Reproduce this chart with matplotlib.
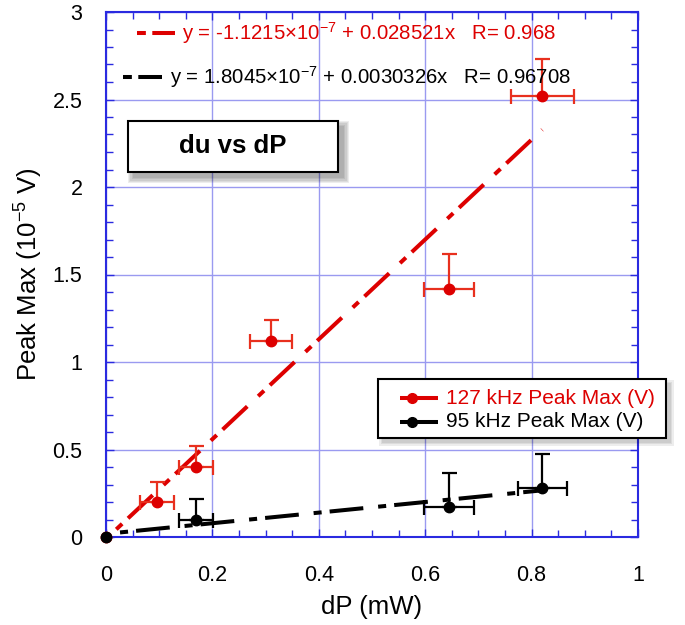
import matplotlib
matplotlib.use('Agg')
import matplotlib.pyplot as plt
import numpy as np
from matplotlib.patches import Rectangle
from matplotlib.lines import Line2D
from matplotlib.ticker import MultipleLocator

plt.rcParams['font.family'] = ['Liberation Sans', 'DejaVu Sans']
plt.rcParams['mathtext.fontset'] = 'custom'
plt.rcParams['mathtext.rm'] = 'Liberation Sans'
plt.rcParams['mathtext.default'] = 'regular'

# ---- data (x in mW, y in 1e-5 V) ----
red_x = [0.0, 0.095, 0.170, 0.310, 0.645, 0.820]
red_y = [0.0, 0.20, 0.40, 1.12, 1.415, 2.52]
red_xerr = [0.0, 0.032, 0.032, 0.040, 0.047, 0.059]
red_yerr_up = [0.0, 0.114, 0.118, 0.12, 0.20, 0.21]

blk_x = [0.0, 0.170, 0.645, 0.820]
blk_y = [0.0, 0.097, 0.173, 0.282]
blk_xerr = [0.0, 0.032, 0.047, 0.046]
blk_yerr_up = [0.0, 0.118, 0.19, 0.19]

red_fit = (-1.1215e-7, 0.028521)   # intercept (V), slope (V/W)
red_R = 0.968
blk_fit = (1.8045e-7, 0.0030326)
blk_R = 0.96708

red_label = '127 kHz Peak Max (V)'
blk_label = '95 kHz Peak Max (V)'
title_text = 'du vs dP'

W, H = 685, 625
RED = '#dd0000'
RED_ERR = '#e8301e'
BLUE = '#2a2ae0'
GRID = '#9a9af0'

fig = plt.figure(figsize=(W / 100, H / 100), dpi=100)
ax = fig.add_axes([106 / W, 1 - 537 / H, (638 - 106) / W, (537 - 12) / H])

def px(x, y):
    return x / W, 1 - y / H

DASH = (8.4, 3.7, 2.0, 2.0)

def fit_line(xs, fit):
    a, b = fit
    xx = np.linspace(0, max(xs), 200)
    return xx, (a + b * xx * 1e-3) * 1e5

# fit lines
xx, yy = fit_line(red_x, red_fit)
ax.plot(xx, yy, color=RED, lw=2.9, linestyle=(8.6, DASH), dash_capstyle='butt', zorder=3)
xx, yy = fit_line(blk_x, blk_fit)
ax.plot(xx, yy, color='black', lw=2.9, linestyle=(8.6, DASH), dash_capstyle='butt', zorder=3)

def draw_series(x, y, xerr, yup, col, ecol, z):
    x = np.array(x); y = np.array(y); xerr = np.array(xerr); yup = np.array(yup)
    m = (xerr > 0) | (yup > 0)
    ax.errorbar(x[m], y[m], xerr=xerr[m], yerr=[np.zeros(m.sum()), yup[m]],
                fmt='none', ecolor=ecol, elinewidth=1.6, capsize=5.4,
                capthick=1.6, zorder=z)
    ax.plot(x, y, 'o', color=col, ms=7.5, zorder=z + 1, clip_on=False)

draw_series(red_x, red_y, red_xerr, red_yerr_up, RED, RED_ERR, 4)
draw_series(blk_x, blk_y, blk_xerr, blk_yerr_up, 'black', 'black', 6)

ax.set_xlim(0, 1)
ax.set_ylim(0, 3)
ax.xaxis.set_minor_locator(MultipleLocator(0.05))
ax.yaxis.set_minor_locator(MultipleLocator(0.1))
ax.set_xticks([0, 0.2, 0.4, 0.6, 0.8, 1.0])
ax.set_xticklabels(['0', '0.2', '0.4', '0.6', '0.8', '1'])
ax.set_yticks([0, 0.5, 1, 1.5, 2, 2.5, 3])
ax.set_yticklabels(['0', '0.5', '1', '1.5', '2', '2.5', '3'])
ax.grid(True, which='major', color=GRID, lw=1.0)
ax.set_axisbelow(True)
ax.tick_params(which='both', direction='in', top=True, right=True,
               color=BLUE, labelsize=15.5, labelcolor='black')
ax.tick_params(which='major', length=6, width=1)
ax.tick_params(axis='x', which='major', pad=20)
ax.tick_params(axis='y', which='major', pad=17)
ax.tick_params(which='minor', length=5, width=1)
for s in ax.spines.values():
    s.set_color(BLUE)
    s.set_linewidth(1.5)

ax.set_xlabel('dP (mW)', fontsize=18.5, labelpad=6.5)
ax.set_ylabel('Peak Max (10$^{-5}$ V)', fontsize=18.5, labelpad=5.5)

# equation annotations
SAMPLE = (2.2, 1.6, 8, 1.6)

def sample_line(x0, x1, y, col):
    xa, ya = px(x0, y)
    xb, _ = px(x1, y)
    fig.add_artist(Line2D([xa, xb], [ya, ya], color=col, lw=2.9,
                          dashes=SAMPLE, dash_capstyle='butt'))

sample_line(137, 175, 33, RED)
fig.text(*px(182, 33), 'y = %.4f×10$^{-7}$ + %.6fx   R= %g' % (red_fit[0] * 1e7, red_fit[1], red_R),
         color=RED, fontsize=14.7, va='center', ha='left')
sample_line(123, 162, 77, 'black')
fig.text(*px(170, 77), 'y = %.4f×10$^{-7}$ + %.7fx   R= %g' % (blk_fit[0] * 1e7, blk_fit[1], blk_R),
         color='black', fontsize=14.7, va='center', ha='left')

# boxes with soft shadow
def shadow_box(x0, y0, x1, y1, off, layers, lw):
    for i in range(layers, 0, -1):
        g = i * 1.2
        bx, by = px(x0 + off - g + 1, y1 + off + g)
        fig.add_artist(Rectangle((bx, by), (x1 - x0 + 2 * g - 1) / W, (y1 - y0 + 2 * g - 1) / H,
                                 transform=fig.transFigure, facecolor='black',
                                 edgecolor='none', alpha=0.07, zorder=9))
    bx, by = px(x0, y1)
    fig.add_artist(Rectangle((bx, by), (x1 - x0) / W, (y1 - y0) / H,
                             transform=fig.transFigure, facecolor='white',
                             edgecolor='black', lw=lw, zorder=10))

shadow_box(128, 121, 338, 172, 5, 5, 1.5)
tx, ty = px(233, 146)
fig.text(tx, ty, title_text, fontsize=18.5, fontweight='bold', ha='center', va='center', zorder=11)

# legend box
shadow_box(378, 379, 666, 438, 4, 3, 1.5)
for (y, col, lab) in [(398, RED, red_label), (421.5, 'black', blk_label)]:
    xa, ya = px(400, y)
    xb, _ = px(438, y)
    fig.add_artist(Line2D([xa, xb], [ya, ya], color=col, lw=2.9,
                          dashes=SAMPLE, dash_capstyle='butt', zorder=11))
    xm, _ = px(412, y)
    fig.add_artist(Line2D([xm], [ya], color=col, marker='o', ms=7, zorder=12))
    fig.text(*px(446, y), lab, color=col, fontsize=15, va='center', ha='left', zorder=12)

fig.savefig('out.png', dpi=100)
